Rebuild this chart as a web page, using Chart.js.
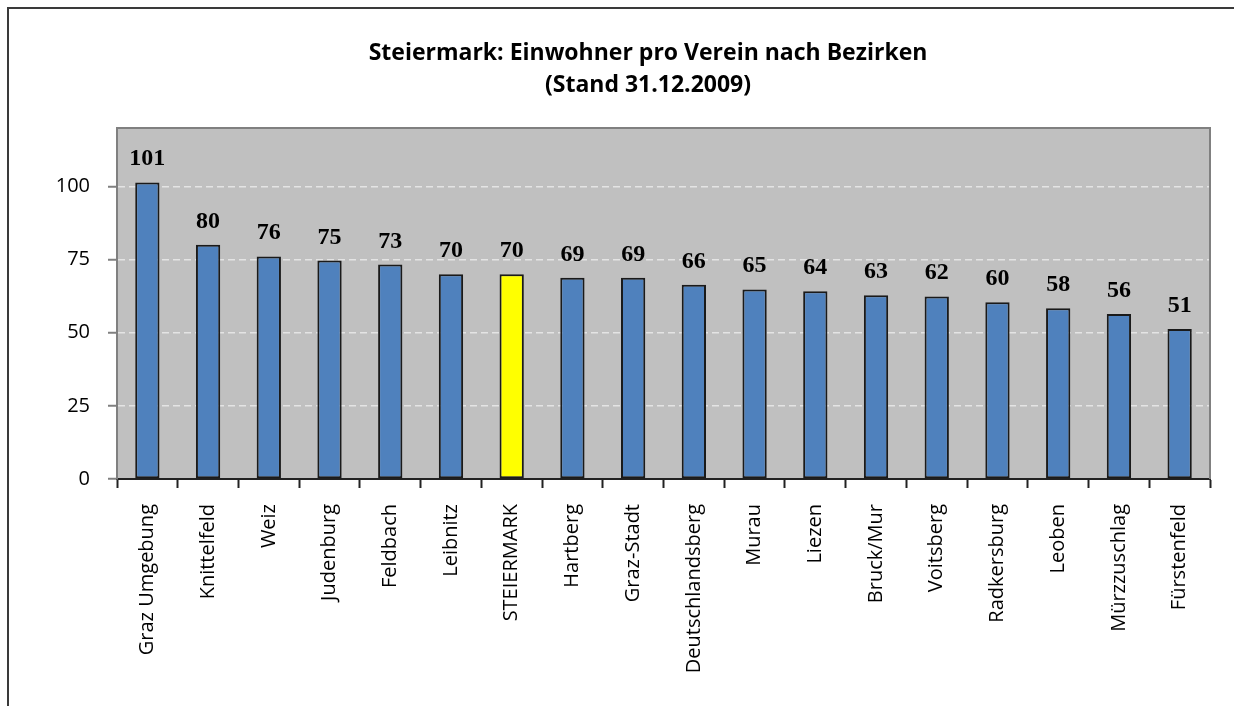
<!DOCTYPE html>
<html>
<head>
<meta charset="utf-8">
<script src="https://cdn.jsdelivr.net/npm/chart.js@4.4.1/dist/chart.umd.min.js"></script>
<style>
  html, body { margin: 0; padding: 0; background: #fff; overflow: hidden; }
  #frame {
    position: absolute; left: 7px; top: 7px; width: 1300px; height: 800px;
    border: 2px solid #3a3a3a;
  }
  #wrap { position: absolute; left: 0; top: 0; width: 1234px; height: 706px; }
</style>
</head>
<body>
<div id="frame"></div>
<div id="wrap"><canvas id="barchart" width="1234" height="706"></canvas></div>
<script>
const Bezirke = [
  "Graz Umgebung", "Knittelfeld", "Weiz", "Judenburg", "Feldbach", "Leibnitz",
  "STEIERMARK", "Hartberg", "Graz-Stadt", "Deutschlandsberg", "Murau", "Liezen",
  "Bruck/Mur", "Voitsberg", "Radkersburg", "Leoben", "Mürzzuschlag", "Fürstenfeld",
];

const EinwohnerProVerein = [
  101.4, 80.1, 76.1, 74.7, 73.3, 70.0, 70.0, 68.8, 68.8, 66.4,
  64.8, 64.2, 62.8, 62.4, 60.4, 58.4, 56.4, 51.3,
];

const yTicks = [0, 25, 50, 75, 100];

const titleLines = ["Steiermark: Einwohner pro Verein nach Bezirken", "(Stand 31.12.2009)"];

const barColors = Bezirke.map((name) => (name === "STEIERMARK" ? "#FFFF00" : "#4F81BD"));

// grey plot background, frame and the two-line title
const plotArea = {
  id: "plotArea",
  beforeDraw(chart) {
    const { ctx, chartArea: a } = chart;
    ctx.save();
    ctx.fillStyle = "#C0C0C0";
    ctx.fillRect(a.left, a.top, a.right - a.left, a.bottom - a.top);

    ctx.fillStyle = "#000";
    ctx.font = "bold 23px 'Open Sans', sans-serif";
    ctx.textAlign = "center";
    ctx.textBaseline = "middle";
    ctx.fillText(titleLines[0], 648, 53);
    ctx.fillText(titleLines[1], 648, 85);
    ctx.restore();
  },
  beforeDatasetsDraw(chart) {
    const { ctx, chartArea: a } = chart;
    ctx.save();
    ctx.strokeStyle = "#808080";
    ctx.lineWidth = 2;
    ctx.beginPath();
    ctx.moveTo(a.left, a.bottom);
    ctx.lineTo(a.left, a.top);
    ctx.lineTo(a.right, a.top);
    ctx.lineTo(a.right, a.bottom);
    ctx.stroke();
    ctx.restore();
  },
};

// rounded values above the bars
const valueLabels = {
  id: "valueLabels",
  afterDatasetsDraw(chart) {
    const { ctx } = chart;
    const meta = chart.getDatasetMeta(0);
    ctx.save();
    ctx.font = "bold 24px 'Liberation Serif', 'Times New Roman', serif";
    ctx.fillStyle = "#000";
    ctx.textAlign = "center";
    ctx.textBaseline = "alphabetic";
    meta.data.forEach((bar, i) => {
      ctx.fillText(Math.round(EinwohnerProVerein[i]), bar.x, bar.y - 17);
    });
    ctx.restore();
  },
};

const ctx = document.getElementById("barchart").getContext("2d");

const barChart = new Chart(ctx, {
  type: "bar",
  data: {
    labels: Bezirke,
    datasets: [
      {
        data: EinwohnerProVerein,
        backgroundColor: barColors,
        borderColor: "#1a1a1a",
        borderWidth: 2,
        borderSkipped: false,
        barPercentage: 0.4,
        categoryPercentage: 1,
      },
    ],
  },
  options: {
    responsive: false,
    animation: false,
    layout: { padding: { left: 56, right: 24, top: 128, bottom: 0 } },
    plugins: {
      legend: { display: false },
      tooltip: { enabled: false },
      title: { display: false },
    },
    scales: {
      x: {
        grid: {
          display: true,
          drawOnChartArea: false,
          drawTicks: true,
          tickLength: 9,
          tickColor: "#222",
          tickWidth: 2,
        },
        border: { display: true, color: "#222", width: 2 },
        ticks: {
          color: "#000",
          font: { family: "'Open Sans', sans-serif", size: 20 },
          minRotation: 90,
          maxRotation: 90,
          autoSkip: false,
          padding: 16,
        },
        afterFit(scale) {
          scale.height = 706 - 479;
        },
      },
      y: {
        min: 0,
        max: 120,
        afterBuildTicks(scale) {
          scale.ticks = yTicks.map((v) => ({ value: v }));
        },
        grid: {
          color: (c) => (c.tick && c.tick.value === 0 ? "rgba(0,0,0,0)" : "#E4E4E4"),
          lineWidth: 1.5,
          tickLength: 9,
          tickColor: "#808080",
          tickWidth: 2,
        },
        border: { display: true, color: "#808080", width: 2, dash: [7, 4] },
        ticks: {
          color: "#000",
          font: { family: "'Open Sans', sans-serif", size: 20 },
          padding: 18,
        },
        afterFit(scale) {
          scale.width = 61;
        },
      },
    },
  },
  plugins: [plotArea, valueLabels],
});
</script>
</body>
</html>
